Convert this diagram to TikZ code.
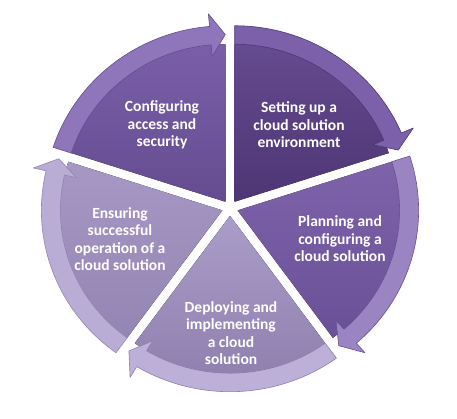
\documentclass[tikz,border=0pt]{standalone}
\usepackage{fontspec}
\setmainfont{Carlito}
\definecolor{aTop}{HTML}{654B8F}\definecolor{aBot}{HTML}{4E3574}\definecolor{aBand}{HTML}{7D60AA}
\definecolor{bTop}{HTML}{7E63AB}\definecolor{bBot}{HTML}{6A5096}\definecolor{bBand}{HTML}{9A84C2}
\definecolor{cTop}{HTML}{AB9DC9}\definecolor{cBot}{HTML}{8E7FAE}\definecolor{cBand}{HTML}{BCB0D8}
\definecolor{dTop}{HTML}{A697C4}\definecolor{dBot}{HTML}{9486B4}\definecolor{dBand}{HTML}{B9ADD5}
\definecolor{eTop}{HTML}{7A5FA8}\definecolor{eBot}{HTML}{654C90}\definecolor{eBand}{HTML}{8F76BA}
\newcommand\cycseg[4]{%
  \pgfmathsetmacro\as{#1}%
  \pgfmathsetmacro\ae{#1-72}%
  \pgfmathsetmacro\bis{#1-36}%
  \pgfmathsetmacro\ab{#1-67}%
  \begin{scope}[shift={(230,211)},yscale=0.972,shift={(\bis:8)}]
    \fill[top color=#2,bottom color=#3] (0,0) -- (\as:162) arc[start angle=\as,end angle=\ae,radius=162] -- cycle;
    \filldraw[fill=#4,draw=#3,line width=0.6pt,line join=round]
      (\as:181) arc[start angle=\as,end angle=\ab,radius=181]
      -- (\ab:194) -- (\ae:172) -- (\ab:150) -- (\ab:162)
      arc[start angle=\ab,end angle=\as,radius=162] -- cycle;
  \end{scope}}
\begin{document}
\begin{tikzpicture}[x=1pt,y=1pt,
  lbl/.style={text=white,font=\bfseries\fontsize{15.5}{17.5}\selectfont,align=center,inner sep=0pt}]
\useasboundingbox (0,0) rectangle (457,419);
\cycseg{90}{aTop}{aBot}{aBand}
\cycseg{18}{bTop}{bBot}{bBand}
\cycseg{-54}{cTop}{cBot}{cBand}
\cycseg{-126}{dTop}{dBot}{dBand}
\cycseg{-198}{eTop}{eBot}{eBand}
\node[lbl] (t1) at (299,294) {Setting up a\\cloud solution\\environment};
\node[lbl] (t2) at (340,180) {Planning and\\configuring a\\cloud solution};
\node[lbl] (t3) at (231,86) {Deploying and\\implementing\\a cloud\\solution};
\node[lbl] (t4) at (120,180) {Ensuring\\successful\\operation of a\\cloud solution};
\node[lbl] (t5) at (162,294) {Configuring\\access and\\security};
\end{tikzpicture}
\end{document}
